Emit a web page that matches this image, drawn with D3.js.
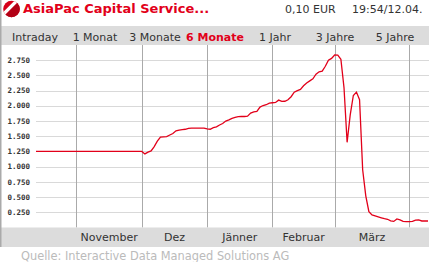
<!DOCTYPE html>
<html>
<head>
<meta charset="utf-8">
<script src="https://cdn.jsdelivr.net/npm/d3@7"></script>
<style>
  html, body { margin: 0; padding: 0; background: #fff; }
  svg { display: block; }
  text { font-family: 'DejaVu Sans', sans-serif; }
</style>
</head>
<body>
<div id="chart"></div>
<script>
// Kursdaten (ein Wert pro Handelstag, Mitte Oktober bis 12.04.)
const prices = [
  1.25, 1.25, 1.25, 1.25, 1.25, 1.25, 1.25, 1.25, 1.25, 1.25,
  1.25, 1.25, 1.25, 1.25, 1.25, 1.25, 1.25, 1.25, 1.25, 1.25,
  1.25, 1.25, 1.25, 1.25, 1.25, 1.25, 1.25, 1.25, 1.25, 1.25,
  1.25, 1.25, 1.25, 1.25, 1.25, 1.21, 1.24, 1.26, 1.33, 1.42,
  1.485, 1.49, 1.495, 1.52, 1.545, 1.59, 1.60, 1.61, 1.615, 1.63,
  1.632, 1.632, 1.632, 1.632, 1.632, 1.62, 1.615, 1.64, 1.655, 1.685,
  1.71, 1.75, 1.77, 1.795, 1.81, 1.822, 1.825, 1.825, 1.83, 1.88,
  1.90, 1.908, 1.98, 2.005, 2.018, 2.045, 2.051, 2.055, 2.094, 2.073,
  2.075, 2.10, 2.15, 2.225, 2.25, 2.27, 2.33, 2.375, 2.41, 2.445,
  2.52, 2.56, 2.57, 2.65, 2.75, 2.78, 2.835, 2.832, 2.766, 2.30,
  1.40, 1.85, 2.17, 2.226, 2.10, 0.95, 0.52, 0.26, 0.206, 0.19,
  0.175, 0.16, 0.145, 0.135, 0.11, 0.10, 0.14, 0.124, 0.10, 0.096,
  0.096, 0.10, 0.12, 0.124, 0.107, 0.107, 0.107
];

const months = ['November', 'Dez', 'Jänner', 'Februar', 'März'];
const monthStarts = [13, 34, 55, 76, 96, 120]; // Handelstag-Index des Monatsersten
const yTicks = [0.25, 0.5, 0.75, 1.0, 1.25, 1.5, 1.75, 2.0, 2.25, 2.5, 2.75];
const tabs = ['Intraday', '1 Monat', '3 Monate', '6 Monate', '1 Jahr', '3 Jahre', '5 Jahre'];
const activeTab = '6 Monate';

const title = 'AsiaPac Capital Service...';
const lastPrice = '0,10 EUR';
const timestamp = '19:54/12.04.';
const source = 'Quelle: Interactive Data Managed Solutions AG';

const width = 429;
const height = 262;
const plot = { left: 36, right: 428, top: 45, bottom: 227.5 };

const red = '#e2001a';
const textColor = '#333';

const svg = d3.select('#chart').append('svg')
  .attr('width', width)
  .attr('height', height);

const x = d3.scaleLinear()
  .domain([0, prices.length - 1])
  .range([plot.left, plot.right]);

const y = d3.scaleLinear()
  .domain([0, 3])
  .range([plot.bottom, plot.top]);

// Kopfzeile
const logo = svg.append('g').attr('transform', 'translate(11.5,9)');
logo.append('clipPath').attr('id', 'logo-clip')
  .append('circle').attr('r', 8.3);
logo.append('circle').attr('r', 8.3).attr('fill', '#d5001a');
logo.append('path')
  .attr('clip-path', 'url(#logo-clip)')
  .attr('d', 'M-9,9 L9,-9 L9,9 Z')
  .attr('fill', '#b20015');
logo.append('line')
  .attr('clip-path', 'url(#logo-clip)')
  .attr('x1', -9).attr('y1', 6).attr('x2', 6).attr('y2', -9)
  .attr('stroke', '#fff')
  .attr('stroke-width', 3.2);

svg.append('text')
  .attr('x', 23).attr('y', 13)
  .attr('fill', red)
  .style('font-size', '13px')
  .style('font-weight', 'bold')
  .text(title);

svg.append('text')
  .attr('x', 285).attr('y', 13)
  .attr('fill', textColor)
  .style('font-size', '11px')
  .text(lastPrice);

svg.append('text')
  .attr('x', 352).attr('y', 13)
  .attr('fill', textColor)
  .style('font-size', '11px')
  .text(timestamp);

// Zeitraum-Leiste
svg.append('rect')
  .attr('x', 0).attr('y', 26)
  .attr('width', width).attr('height', plot.top - 26)
  .attr('fill', '#dcdcdc');

svg.selectAll('.tab')
  .data(tabs)
  .enter()
  .append('text')
  .attr('class', 'tab')
  .attr('x', (d, i) => 35 + i * 60)
  .attr('y', 40.5)
  .attr('text-anchor', 'middle')
  .attr('fill', d => d === activeTab ? red : textColor)
  .style('font-size', '11px')
  .style('font-weight', d => d === activeTab ? 'bold' : 'normal')
  .text(d => d);

// Gitter
svg.append('g')
  .selectAll('line')
  .data(yTicks)
  .enter()
  .append('line')
  .attr('x1', plot.left).attr('x2', width)
  .attr('y1', d => Math.round(y(d)) + 0.5)
  .attr('y2', d => Math.round(y(d)) + 0.5)
  .attr('stroke', '#d9d9d9')
  .attr('stroke-width', 1);

svg.append('g')
  .selectAll('line')
  .data(monthStarts)
  .enter()
  .append('line')
  .attr('x1', d => Math.round(x(d)) + 0.5)
  .attr('x2', d => Math.round(x(d)) + 0.5)
  .attr('y1', plot.top).attr('y2', plot.bottom)
  .attr('stroke', '#aaa')
  .attr('stroke-width', 1);

svg.append('g')
  .selectAll('text')
  .data(yTicks)
  .enter()
  .append('text')
  .attr('x', 30)
  .attr('y', d => y(d))
  .attr('dy', '0.35em')
  .attr('text-anchor', 'end')
  .attr('fill', textColor)
  .style('font-family', "'DejaVu Sans Mono', monospace")
  .style('font-size', '7.5px')
  .style('font-weight', 'bold')
  .text(d => d3.format('.3f')(d));

// Kurslinie
const line = d3.line()
  .x((d, i) => x(i))
  .y(d => y(d));

svg.append('path')
  .datum(prices)
  .attr('d', line)
  .attr('fill', 'none')
  .attr('stroke', red)
  .attr('stroke-width', 1.3);

// Monatsleiste
svg.append('rect')
  .attr('x', 0).attr('y', plot.bottom)
  .attr('width', width).attr('height', 247 - plot.bottom)
  .attr('fill', '#dcdcdc');

svg.append('g')
  .selectAll('text')
  .data(months)
  .enter()
  .append('text')
  .attr('x', (d, i) => (x(monthStarts[i]) + x(monthStarts[i + 1])) / 2)
  .attr('y', 241)
  .attr('text-anchor', 'middle')
  .attr('fill', textColor)
  .style('font-size', '11px')
  .text(d => d);

// linker Rand
svg.append('line')
  .attr('x1', 0.75).attr('x2', 0.75)
  .attr('y1', 0).attr('y2', 247)
  .attr('stroke', '#aaa')
  .attr('stroke-width', 1.5);

svg.append('text')
  .attr('x', 21).attr('y', 259.5)
  .attr('fill', '#bbb')
  .style('font-size', '11.4px')
  .text(source);
</script>
</body>
</html>
